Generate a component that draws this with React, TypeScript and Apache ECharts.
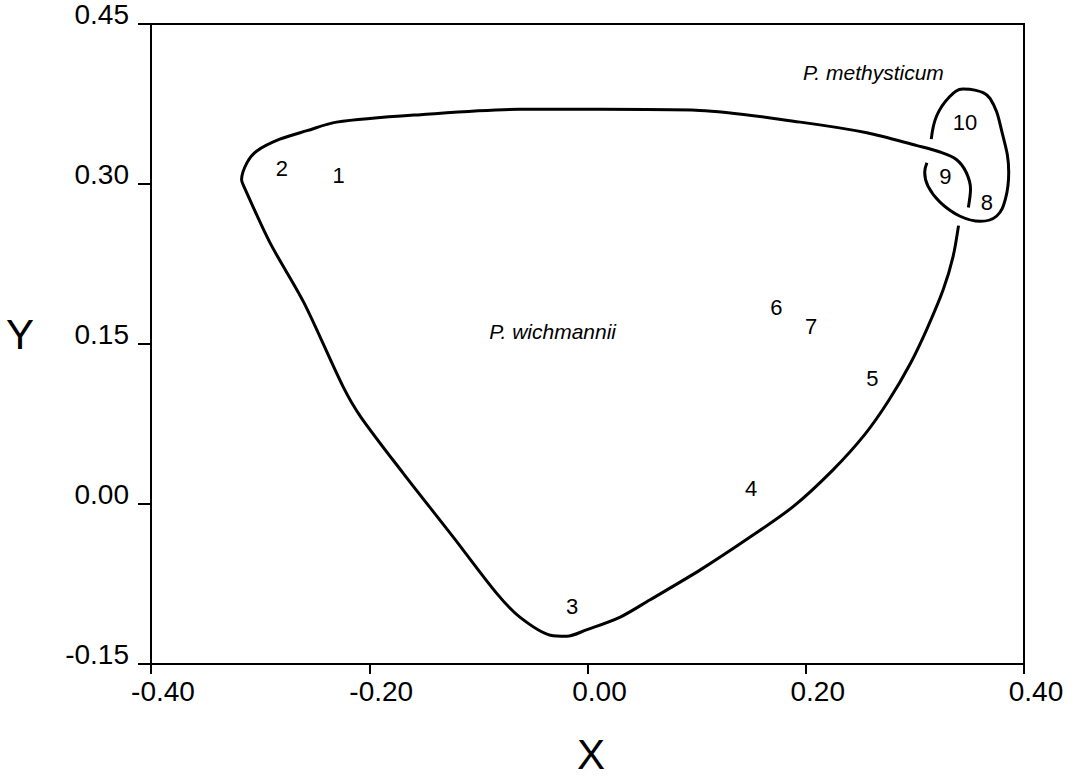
import React, { useEffect, useRef } from "react";
import * as echarts from "echarts";

// Numbered sample labels (position)
const pointNames = ["1", "2", "3", "4", "5", "6", "7", "8", "9", "10"];
const pointX = [-0.228, -0.28, -0.014, 0.15, 0.261, 0.173, 0.205, 0.366, 0.328, 0.346];
const pointY = [0.308, 0.315, -0.096, 0.015, 0.118, 0.184, 0.166, 0.283, 0.307, 0.358];

// Hand-drawn envelope around P. wichmannii (open at the right)
const wichmanniiX = [
  0.349, 0.351, 0.347, 0.338, 0.323, 0.302, 0.256, 0.195, 0.103, 0.011, -0.062, -0.153, -0.23,
  -0.257, -0.282, -0.303, -0.312, -0.317, -0.315, -0.291, -0.26, -0.224, -0.208, -0.169, -0.123,
  -0.083, -0.062, -0.034, -0.019, -0.001, 0.03, 0.057, 0.103, 0.149, 0.189, 0.225, 0.254, 0.276,
  0.296, 0.311, 0.326, 0.335, 0.34,
];
const wichmanniiY = [
  0.278, 0.295, 0.311, 0.323, 0.33, 0.336, 0.348, 0.358, 0.369, 0.37, 0.37, 0.365, 0.358, 0.35,
  0.342, 0.331, 0.32, 0.304, 0.298, 0.245, 0.189, 0.11, 0.082, 0.029, -0.031, -0.084, -0.106,
  -0.123, -0.124, -0.118, -0.106, -0.09, -0.062, -0.031, -0.002, 0.032, 0.065, 0.097, 0.132,
  0.164, 0.201, 0.232, 0.261,
];

// Hand-drawn envelope around P. methysticum (open at the left)
const methysticumX = [
  0.315, 0.32, 0.332, 0.344, 0.355, 0.369, 0.38, 0.386, 0.383, 0.375, 0.36, 0.341, 0.323, 0.312,
  0.309, 0.311,
];
const methysticumY = [
  0.342, 0.364, 0.382, 0.389, 0.388, 0.38, 0.348, 0.311, 0.286, 0.27, 0.265, 0.27, 0.283, 0.298,
  0.311, 0.32,
];

// Group names
const speciesNames = ["P. wichmannii", "P. methysticum"];
const speciesX = [-0.032, 0.262];
const speciesY = [0.162, 0.405];

// Axes
const xTickLabels = ["-0.40", "-0.20", "0.00", "0.20", "0.40"];
const yTickLabels = ["-0.15", "0.00", "0.15", "0.30", "0.45"];
const xName = "X";
const yName = "Y";

const FONT = "'Liberation Sans', Arial, Helvetica, sans-serif";

export default function App() {
  const ref = useRef<HTMLDivElement>(null);

  useEffect(() => {
    if (!ref.current) return;
    const chart = echarts.init(ref.current, undefined, { renderer: "svg" });

    const xFmt = (v: number) => {
      const i = Math.round((v + 0.4) / 0.2);
      return xTickLabels[i] ?? v.toFixed(2);
    };
    const yFmt = (v: number) => {
      const i = Math.round((v + 0.15) / 0.15);
      return yTickLabels[i] ?? v.toFixed(2);
    };

    const axisCommon = {
      type: "value" as const,
      splitLine: { show: false },
      axisLine: { show: true, onZero: false, lineStyle: { color: "#000", width: 2 } },
    };

    chart.setOption({
      animation: false,
      backgroundColor: "#fff",
      grid: {
        left: 151,
        right: 50,
        top: 24,
        bottom: 114,
        show: true,
        borderColor: "#000",
        borderWidth: 2,
        backgroundColor: "transparent",
      },
      xAxis: {
        ...axisCommon,
        min: -0.4,
        max: 0.4,
        interval: 0.2,
        axisTick: { show: true, inside: false, length: 10, lineStyle: { color: "#000", width: 2 } },
        axisLabel: {
          formatter: xFmt,
          color: "#000",
          fontFamily: FONT,
          fontSize: 28,
          margin: 13,
          padding: [0, 0, 0, 24],
        },
      },
      yAxis: {
        ...axisCommon,
        min: -0.15,
        max: 0.45,
        interval: 0.15,
        axisTick: { show: true, inside: false, length: 13, lineStyle: { color: "#000", width: 2 } },
        axisLabel: {
          formatter: yFmt,
          color: "#000",
          fontFamily: FONT,
          fontSize: 28,
          margin: 22,
          verticalAlign: "bottom",
          lineHeight: 20,
        },
      },
      graphic: [
        {
          type: "text",
          left: 577,
          top: 733,
          style: { text: xName, fontFamily: FONT, fontSize: 42, fill: "#000" },
        },
        {
          type: "text",
          left: 6,
          top: 313,
          style: { text: yName, fontFamily: FONT, fontSize: 42, fill: "#000" },
        },
      ],
      series: [
        {
          type: "line",
          data: wichmanniiX.map((x, i) => [x, wichmanniiY[i]]),
          smooth: 0.3,
          showSymbol: false,
          symbol: "none",
          lineStyle: { color: "#000", width: 3 },
          z: 3,
        },
        {
          type: "line",
          data: methysticumX.map((x, i) => [x, methysticumY[i]]),
          smooth: 0.4,
          showSymbol: false,
          symbol: "none",
          lineStyle: { color: "#000", width: 3 },
          z: 3,
        },
        {
          type: "scatter",
          symbolSize: 1,
          itemStyle: { color: "transparent", opacity: 1 },
          data: pointNames.map((n, i) => ({ name: n, value: [pointX[i], pointY[i]] })),
          label: {
            show: true,
            position: "inside",
            formatter: "{b}",
            color: "#000",
            textBorderWidth: 0,
            fontFamily: FONT,
            fontSize: 22,
          },
          z: 4,
        },
        {
          type: "scatter",
          symbolSize: 1,
          itemStyle: { color: "transparent", opacity: 1 },
          data: speciesNames.map((n, i) => ({ name: n, value: [speciesX[i], speciesY[i]] })),
          label: {
            show: true,
            position: "inside",
            formatter: "{b}",
            color: "#000",
            textBorderWidth: 0,
            fontFamily: FONT,
            fontStyle: "italic",
            fontSize: 21,
          },
          z: 4,
        },
      ],
    });

    return () => chart.dispose();
  }, []);

  return (
    <div
      ref={ref}
      style={{ position: "fixed", left: 0, top: 0, width: 1074, height: 778, background: "#fff" }}
    />
  );
}
